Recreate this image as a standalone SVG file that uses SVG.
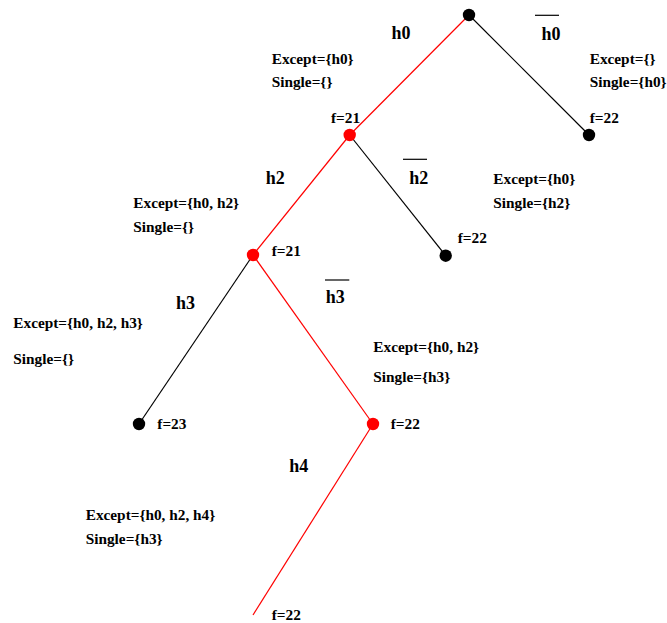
<svg xmlns="http://www.w3.org/2000/svg" width="667" height="623" viewBox="0 0 667 623">
<style>
text{font-family:"Liberation Serif","Times New Roman",serif;font-weight:bold;fill:#000}
.s{font-size:15.3px}
.b{font-size:18px}
.e{stroke-width:1.2;fill:none}
.r{stroke:#ff0000}
.k{stroke:#000}
.ov{stroke:#000;stroke-width:1.2}
</style>
<rect width="667" height="623" fill="#fff"/>
<g id="connectors">
<line class="e r" x1="469" y1="15" x2="349.7" y2="135"/>
<line class="e k" x1="469" y1="15" x2="589" y2="135"/>
<line class="e r" x1="349.7" y1="135" x2="253" y2="255"/>
<line class="e k" x1="349.7" y1="135" x2="445.7" y2="255.7"/>
<line class="e k" x1="253" y1="255" x2="139" y2="424"/>
<line class="e r" x1="253" y1="255" x2="373" y2="424"/>
<line class="e r" x1="373" y1="424" x2="253" y2="615"/>
</g>
<g id="labels">
<text class="b" x="391.5" y="39">h0</text>
<text class="b" x="541.5" y="40">h0</text>
<line class="ov" x1="535" y1="15.3" x2="559" y2="15.3"/>
<text class="b" x="265.7" y="184">h2</text>
<text class="b" x="409.3" y="184">h2</text>
<line class="ov" x1="403" y1="159.3" x2="427" y2="159.3"/>
<text class="b" x="176" y="309.3">h3</text>
<text class="b" x="325.7" y="303.3">h3</text>
<line class="ov" x1="325" y1="280" x2="349.3" y2="280"/>
<text class="b" x="289.3" y="471.7">h4</text>
<text class="s" x="271.7" y="64">Except={h0}</text>
<text class="s" x="271.7" y="87.3">Single={}</text>
<text class="s" x="589.7" y="64">Except={}</text>
<text class="s" x="589.7" y="87.3">Single={h0}</text>
<text class="s" x="133.3" y="208.3">Except={h0, h2}</text>
<text class="s" x="133.3" y="231.7">Single={}</text>
<text class="s" x="493.3" y="184.3">Except={h0}</text>
<text class="s" x="493.3" y="207.7">Single={h2}</text>
<text class="s" x="13.3" y="328.3">Except={h0, h2, h3}</text>
<text class="s" x="13.3" y="364">Single={}</text>
<text class="s" x="373.3" y="351.7">Except={h0, h2}</text>
<text class="s" x="373.3" y="381.7">Single={h3}</text>
<text class="s" x="85.7" y="520">Except={h0, h2, h4}</text>
<text class="s" x="85.7" y="544">Single={h3}</text>
</g>
<g id="n0"><circle cx="469" cy="15" r="6.2" fill="#000"/></g>
<g id="n1"><circle cx="349.7" cy="135" r="6.2" fill="#ff0000"/><text class="s" x="331" y="123">f=21</text></g>
<g id="n2"><circle cx="589" cy="135" r="6.2" fill="#000"/><text class="s" x="589.7" y="123">f=22</text></g>
<g id="n3"><circle cx="253" cy="255" r="6.2" fill="#ff0000"/><text class="s" x="271.7" y="255.7">f=21</text></g>
<g id="n4"><circle cx="445.7" cy="255.7" r="6.2" fill="#000"/><text class="s" x="457.7" y="243.3">f=22</text></g>
<g id="n5"><circle cx="139" cy="424" r="6.2" fill="#000"/><text class="s" x="157.3" y="429.3">f=23</text></g>
<g id="n6"><circle cx="373" cy="424" r="6.2" fill="#ff0000"/><text class="s" x="390.7" y="429.3">f=22</text></g>
<g id="n7"><text class="s" x="271.7" y="620">f=22</text></g>
</svg>
